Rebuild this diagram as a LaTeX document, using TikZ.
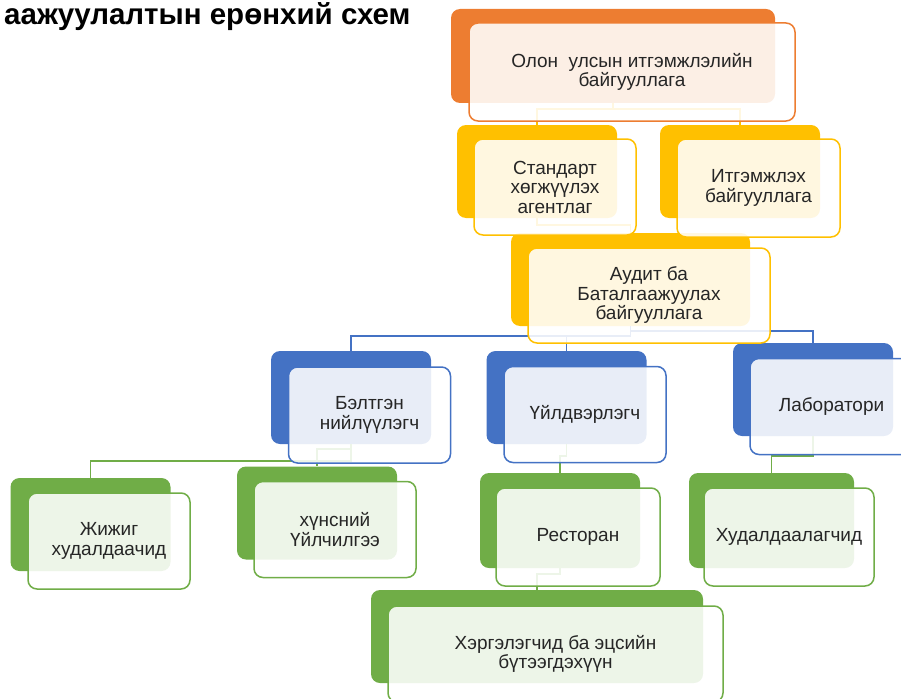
\documentclass[tikz,border=0pt]{standalone}
\usepackage{fontspec}
\setmainfont{Liberation Sans}
\usetikzlibrary{positioning}
\definecolor{orgorange}{HTML}{ED7D31}
\definecolor{orgyellow}{HTML}{FFC000}
\definecolor{orgblue}{HTML}{4472C4}
\definecolor{orggreen}{HTML}{70AD47}
\tikzset{
  backbox/.style = {fill=#1, rounded corners=9pt, minimum width=160pt, minimum height=93pt, inner sep=0pt},
  frontbox/.style = {draw=#1, fill=white, fill opacity=0.88, text opacity=1, line width=1.5pt, rounded corners=9pt, minimum width=162pt, minimum height=96pt, inner sep=0pt, align=center, text=black!85, font=\fontsize{19}{19.5}\selectfont},
  linkline/.style = {draw=#1, line width=1.5pt},
  heading/.style = {inner sep=0pt, anchor=base west, font=\fontsize{29.5}{30}\selectfont\bfseries}
}

\begin{document}
\begin{tikzpicture}[x=1pt, y=-1pt]
  \useasboundingbox (0,0) rectangle (901,698);
  \clip (0,0) rectangle (901,698);
  \node[heading] (title) at (4,25) {аажуулалтын ерөнхий схем};
  % back shapes
  \node[backbox=orgorange, minimum width=324pt, minimum height=94pt] (olonB) at (613,56) {};
  \node[backbox=orgyellow] (stdB) at (537,171.5) {};
  \node[backbox=orgyellow] (itgB) at (740,171.5) {};
  \node[backbox=orgyellow, minimum width=239pt] (auditB) at (630.5,279.5) {};
  \node[backbox=orgblue] (beltB) at (351,397.5) {};
  \node[backbox=orgblue] (uildB) at (566.5,397.5) {};
  \node[backbox=orgblue] (labB) at (813,389.5) {};
  \node[backbox=orggreen] (jijigB) at (90.5,524.5) {};
  \node[backbox=orggreen] (khunsB) at (317,513) {};
  \node[backbox=orggreen, minimum height=95pt] (restB) at (560,520.5) {};
  \node[backbox=orggreen, minimum width=165pt, minimum height=95pt] (khudB) at (771.5,520.5) {};
  \node[backbox=orggreen, minimum width=332pt] (khergB) at (537,636.5) {};
  % connectors
  \draw[linkline=orgyellow] (olonB.south) -- ++(0,6) -| (stdB.north);
  \draw[linkline=orgyellow] (olonB.south) -- ++(0,6) -| (itgB.north);
  \draw[linkline=orgyellow] (stdB.south) -- ++(0,7) -| (auditB.north);
  \draw[linkline=orgblue] (auditB.south) -- ++(0,10) -| (beltB.north);
  \draw[linkline=orgblue] (auditB.south) -- ++(0,10) -| (uildB.north);
  \draw[linkline=orgblue] (auditB.south) -- ++(0,5) -| (labB.north);
  \draw[linkline=orggreen] (beltB.south) -- ++(0,17) -| (jijigB.north);
  \draw[linkline=orggreen] (beltB.south) -- ++(0,5) -| (khunsB.north);
  \draw[linkline=orggreen] (uildB.south) -- ++(0,12) -| (restB.north);
  \draw[linkline=orggreen] (labB.south) -- ++(0,20) -| (khudB.north);
  \draw[linkline=orggreen] (restB.south) -- ++(0,6) -| (khergB.north);
  % front shapes
  \node[frontbox=orgorange, minimum width=326pt, minimum height=98pt] (olon) at (632,72) {Олон\ \ улсын итгэмжлэлийн\\байгууллага};
  \node[frontbox=orgyellow] (std) at (555,187) {Стандарт\\хөгжүүлэх\\агентлаг};
  \node[frontbox=orgyellow, minimum width=163pt, minimum height=98pt] (itg) at (758.5,188) {Итгэмжлэх\\байгууллага};
  \node[frontbox=orgyellow, minimum width=242pt, minimum height=95pt] (audit) at (649,295.5) {Аудит ба\\Баталгаажуулах\\байгууллага};
  \node[frontbox=orgblue] (belt) at (369.5,415) {Бэлтгэн\\нийлүүлэгч};
  \node[frontbox=orgblue] (uild) at (585,414.5) {Үйлдвэрлэгч};
  \node[frontbox=orgblue, minimum width=163pt] (lab) at (831.5,406.5) {Лаборатори};
  \node[frontbox=orggreen] (jijig) at (109,541) {Жижиг\\худалдаачид};
  \node[frontbox=orggreen] (khuns) at (335,529.5) {хүнсний\\Үйлчилгээ};
  \node[frontbox=orggreen, minimum width=164pt, minimum height=98pt] (rest) at (578,537) {Ресторан};
  \node[frontbox=orggreen, minimum width=170pt, minimum height=98pt] (khud) at (789,537) {Худалдаалагчид};
  \node[frontbox=orggreen, minimum width=335pt] (kherg) at (555.5,654) {Хэргэлэгчид ба эцсийн\\бүтээгдэхүүн};
\end{tikzpicture}
\end{document}
